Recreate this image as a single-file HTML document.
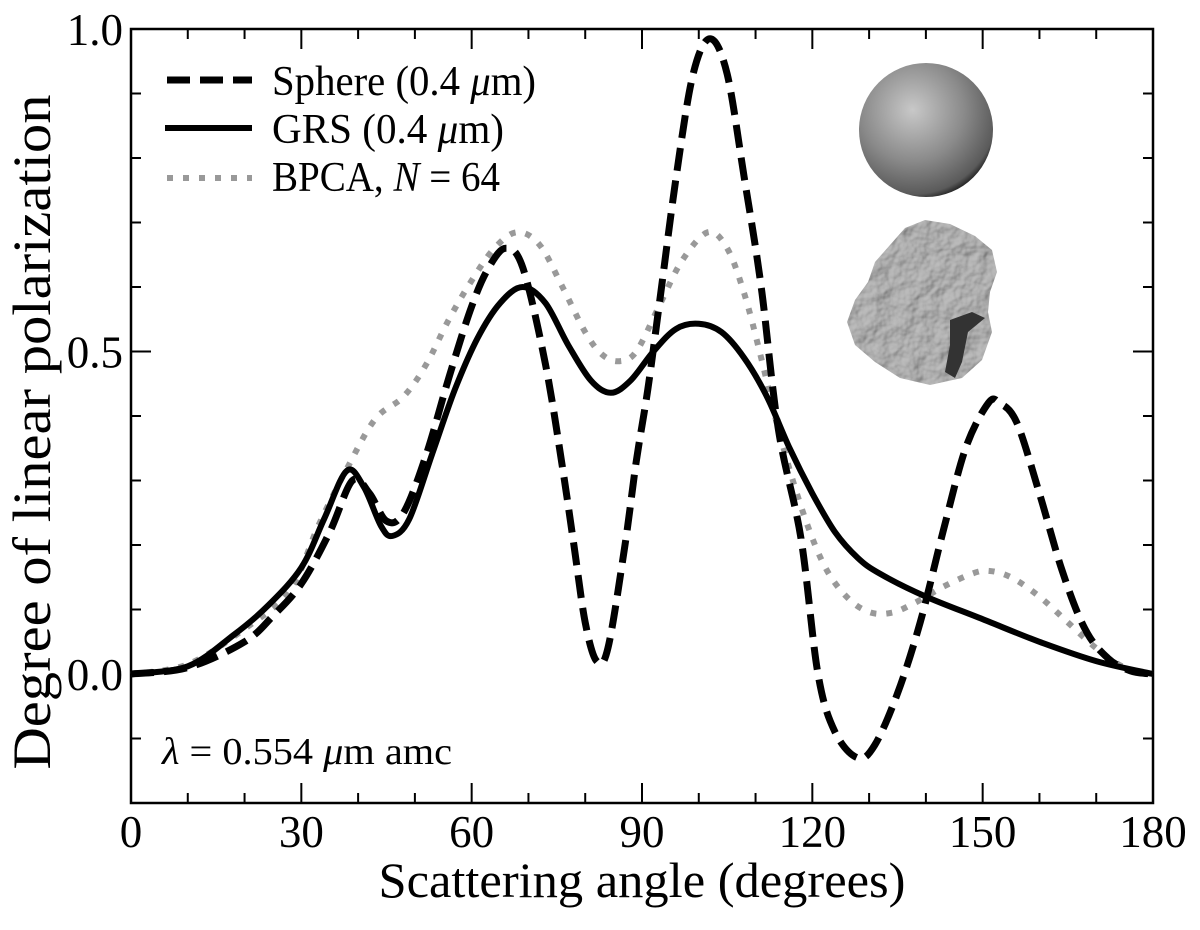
<!DOCTYPE html>
<html><head><meta charset="utf-8"><style>
html,body{margin:0;padding:0;background:#fff;}
svg text{font-family:"Liberation Serif",serif;fill:#000;}
</style></head><body>
<svg id="chart" width="1200" height="925" viewBox="0 0 1200 925" xmlns="http://www.w3.org/2000/svg">
<defs>
<radialGradient id="sg" cx="0.4" cy="0.35" r="0.7">
<stop offset="0" stop-color="#c8c8c8"/><stop offset="0.55" stop-color="#8a8a8a"/><stop offset="0.9" stop-color="#5a5a5a"/><stop offset="1" stop-color="#111"/>
</radialGradient>
<filter id="rough" x="0" y="0" width="1" height="1">
<feTurbulence type="fractalNoise" baseFrequency="0.06" numOctaves="3" seed="3" result="n"/>
<feDiffuseLighting in="n" surfaceScale="3" lighting-color="#bdbdbd" result="l"><feDistantLight azimuth="225" elevation="55"/></feDiffuseLighting>
<feComposite in="l" in2="SourceGraphic" operator="in"/>
</filter>
</defs>
<g id="axes"></g>
<g id="series"></g>
<g id="legend">
<line x1="167" y1="80" x2="252" y2="80" stroke="#000" stroke-width="7" stroke-dasharray="23 10"/>
<text x="272" y="95" font-size="42" textLength="264" lengthAdjust="spacingAndGlyphs">Sphere (0.4 <tspan font-style="italic">μ</tspan>m)</text>
<line x1="165" y1="128" x2="252" y2="128" stroke="#000" stroke-width="6"/>
<text x="272" y="143" font-size="42" textLength="232" lengthAdjust="spacingAndGlyphs">GRS (0.4 <tspan font-style="italic">μ</tspan>m)</text>
<line x1="167" y1="178" x2="252" y2="178" stroke="#999" stroke-width="6" stroke-dasharray="6 10"/>
<text x="272" y="191" font-size="42" textLength="228" lengthAdjust="spacingAndGlyphs">BPCA, <tspan font-style="italic">N</tspan> = 64</text>
</g>
<text x="162" y="764" font-size="38" textLength="290" lengthAdjust="spacingAndGlyphs"><tspan font-style="italic">λ</tspan> = 0.554 <tspan font-style="italic">μ</tspan>m amc</text>
<circle cx="926" cy="130" r="67" fill="url(#sg)"/>
<g>
<path d="M905,228 L925,220 L950,224 L975,236 L992,250 L997,272 L990,292 L988,312 L992,332 L982,360 L962,378 L930,385 L900,378 L875,362 L855,345 L847,322 L855,300 L868,282 L875,262 L890,245 Z" fill="#9c9c9c" filter="url(#rough)"/>
<path d="M950,320 L972,312 L985,318 L968,332 L962,362 L955,378 L945,372 L950,345 Z" fill="#333"/>
</g>
<text x="642" y="897" font-size="50" text-anchor="middle" textLength="527" lengthAdjust="spacingAndGlyphs">Scattering angle (degrees)</text>
<text transform="translate(50,432) rotate(-90)" font-size="54" text-anchor="middle" textLength="675" lengthAdjust="spacingAndGlyphs">Degree of linear polarization</text>
</svg>
<script>
const sphereAngles=[0,10,20,25,30,35,39,42,45,48,52,56,60,63,66,69,73,76,78,80,82,84,87,89,91,93,96,99,102,105,108,111,114,118,121,124,128,131,135,139,143,147,151,153,156,160,164,168,172,176,180];
const sphereValues=[0,0.01,0.05,0.09,0.14,0.22,0.30,0.28,0.237,0.25,0.34,0.46,0.57,0.63,0.66,0.63,0.48,0.32,0.20,0.08,0.02,0.04,0.2,0.33,0.44,0.57,0.77,0.93,0.985,0.93,0.77,0.6,0.38,0.21,0.0,-0.09,-0.13,-0.11,-0.03,0.08,0.22,0.35,0.42,0.42,0.39,0.28,0.16,0.07,0.025,0.005,0];
const grsAngles=[0,10,18,24,30,34,38,41,44,46,49,53,57,61,65,69,73,77,81,84.5,88,92,96,100,104,108,112,116,120,124,128,132,140,150,160,170,180];
const grsValues=[0,0.012,0.06,0.105,0.165,0.24,0.315,0.29,0.23,0.214,0.24,0.34,0.44,0.52,0.575,0.60,0.575,0.51,0.455,0.436,0.455,0.5,0.535,0.543,0.53,0.49,0.43,0.35,0.28,0.22,0.18,0.155,0.12,0.085,0.05,0.02,0];
const bpcaAngles=[0,10,20,28,33,38,43,48,52,56,60,64,68,72,76,80,83,86,89,93,97,101.6,105,108,111,114,118,122,126,130,134,138,143,148,151,155,160,165,170,175,180];
const bpcaValues=[0,0.015,0.07,0.13,0.23,0.318,0.395,0.43,0.48,0.55,0.61,0.66,0.685,0.665,0.6,0.53,0.495,0.485,0.5,0.57,0.64,0.685,0.66,0.59,0.49,0.38,0.26,0.17,0.12,0.096,0.095,0.11,0.135,0.155,0.16,0.15,0.12,0.08,0.04,0.01,0];
const xTicks=[0,30,60,90,120,150,180];
const yTickLabels=["0.0","0.5","1.0"];
const yTickVals=[0,0.5,1.0];

const L=131,R=1153,T=29,B=803,XMIN=0,XMAX=180,YMIN=-0.2,YMAX=1.0;
const sx=v=>L+(v-XMIN)/(XMAX-XMIN)*(R-L);
const sy=v=>B-(v-YMIN)/(YMAX-YMIN)*(B-T);
const NS="http://www.w3.org/2000/svg";
function mk(tag,attrs,parent){const e=document.createElementNS(NS,tag);for(const k in attrs)e.setAttribute(k,attrs[k]);parent.appendChild(e);return e;}
const axes=document.getElementById('axes');
const frame=mk('rect',{x:L,y:T,width:R-L,height:B-T,fill:'none',stroke:'#000','stroke-width':2.5},axes);


for(let d=0;d<=180;d+=10){
  const major=d%30===0, len=major?20:10;
  const t1=mk('line',{x1:sx(d),x2:sx(d),y1:B,y2:B-len,stroke:'#000','stroke-width':2},axes);
  
  
  const t2=mk('line',{x1:sx(d),x2:sx(d),y1:T,y2:T+len,stroke:'#000','stroke-width':2},axes);
  
  
}
for(let i=-2;i<=10;i++){
  const v=i/10, major=(i%5===0), len=major?20:10;
  const t1=mk('line',{x1:L,x2:L+len,y1:sy(v),y2:sy(v),stroke:'#000','stroke-width':2},axes);
  
  
  const t2=mk('line',{x1:R,x2:R-len,y1:sy(v),y2:sy(v),stroke:'#000','stroke-width':2},axes);
  
  
}
xTicks.forEach(d=>{
  const t=mk('text',{x:sx(d),y:847,'font-size':45,'text-anchor':'middle'},axes);
  t.textContent=String(d);
  
  
});
yTickVals.forEach((v,i)=>{
  const t=mk('text',{x:123,y:sy(v)+16,'font-size':45,'text-anchor':'end'},axes);
  t.textContent=yTickLabels[i];
  
  
});
function pathFor(xs,ys){
  const p=xs.map((x,i)=>[sx(x),sy(ys[i])]);
  let d='M'+p[0][0].toFixed(1)+','+p[0][1].toFixed(1);
  for(let i=0;i<p.length-1;i++){
    const p0=p[Math.max(0,i-1)],p1=p[i],p2=p[i+1],p3=p[Math.min(p.length-1,i+2)];
    const c1=[p1[0]+(p2[0]-p0[0])/6,p1[1]+(p2[1]-p0[1])/6];
    const c2=[p2[0]-(p3[0]-p1[0])/6,p2[1]-(p3[1]-p1[1])/6];
    d+=' C'+c1[0].toFixed(1)+','+c1[1].toFixed(1)+' '+c2[0].toFixed(1)+','+c2[1].toFixed(1)+' '+p2[0].toFixed(1)+','+p2[1].toFixed(1);
  }
  return d;
}
const sg=document.getElementById('series');
const bp=mk('path',{d:pathFor(bpcaAngles,bpcaValues),fill:'none',stroke:'#999','stroke-width':6,'stroke-dasharray':'6 10'},sg);


const gr=mk('path',{d:pathFor(grsAngles,grsValues),fill:'none',stroke:'#000','stroke-width':6},sg);


const sp=mk('path',{d:pathFor(sphereAngles,sphereValues),fill:'none',stroke:'#000','stroke-width':7,'stroke-dasharray':'23 10'},sg);


</script>
</body></html>
